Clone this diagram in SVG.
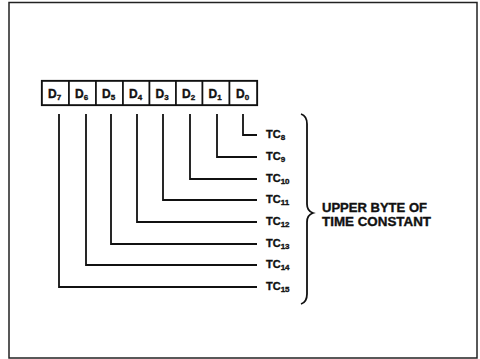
<svg xmlns="http://www.w3.org/2000/svg" width="480" height="359" viewBox="0 0 480 359">
<style>
.ln{fill:none;stroke:#111;stroke-width:1.8;stroke-linejoin:miter}
.cell{fill:#fff;stroke:#111;stroke-width:1.6}
.t{font-family:"Liberation Sans",Arial,sans-serif;font-weight:bold;fill:#111;stroke:#111;stroke-width:0.35}
.d{font-size:12px}
.tc{font-size:11px}
.sub{font-size:8px}
.big{font-size:12px}
</style>
<rect width="480" height="359" fill="#fff"/>
<rect x="9" y="2.5" width="468" height="355.5" fill="none" stroke="#222" stroke-width="1.5"/>
<g id="register">
<rect x="42" y="81" width="215" height="24" fill="#fff" stroke="#111" stroke-width="2.2"/>
<g id="cell-d7"><rect class="cell" x="42" y="81" width="27" height="24"/><text class="t d" x="48" y="98">D<tspan class="sub" dy="2">7</tspan></text></g>
<g id="cell-d6"><rect class="cell" x="69" y="81" width="27" height="24"/><text class="t d" x="75" y="98">D<tspan class="sub" dy="2">6</tspan></text></g>
<g id="cell-d5"><rect class="cell" x="96" y="81" width="27" height="24"/><text class="t d" x="102" y="98">D<tspan class="sub" dy="2">5</tspan></text></g>
<g id="cell-d4"><rect class="cell" x="123" y="81" width="26.5" height="24"/><text class="t d" x="129" y="98">D<tspan class="sub" dy="2">4</tspan></text></g>
<g id="cell-d3"><rect class="cell" x="149.5" y="81" width="26.5" height="24"/><text class="t d" x="155.5" y="98">D<tspan class="sub" dy="2">3</tspan></text></g>
<g id="cell-d2"><rect class="cell" x="176" y="81" width="26.5" height="24"/><text class="t d" x="182" y="98">D<tspan class="sub" dy="2">2</tspan></text></g>
<g id="cell-d1"><rect class="cell" x="202.5" y="81" width="27" height="24"/><text class="t d" x="208.5" y="98">D<tspan class="sub" dy="2">1</tspan></text></g>
<g id="cell-d0"><rect class="cell" x="229.5" y="81" width="27.5" height="24"/><text class="t d" x="236" y="98">D<tspan class="sub" dy="2">0</tspan></text></g>
</g>
<g id="connectors">
<polyline class="ln" points="243,114 243,135 257,135"/>
<polyline class="ln" points="217,114 217,157 257,157"/>
<polyline class="ln" points="190,114 190,179 257,179"/>
<polyline class="ln" points="163,114 163,200 257,200"/>
<polyline class="ln" points="137,114 137,222 257,222"/>
<polyline class="ln" points="111,114 111,244 257,244"/>
<polyline class="ln" points="86,114 86,265 257,265"/>
<polyline class="ln" points="59,114 59,287 257,287"/>
</g>
<g id="labels">
<text class="t tc" x="266" y="138">TC<tspan class="sub" dy="2">8</tspan></text>
<text class="t tc" x="266" y="160">TC<tspan class="sub" dy="2">9</tspan></text>
<text class="t tc" x="266" y="182">TC<tspan class="sub" dy="2">10</tspan></text>
<text class="t tc" x="266" y="203">TC<tspan class="sub" dy="2">11</tspan></text>
<text class="t tc" x="266" y="225">TC<tspan class="sub" dy="2">12</tspan></text>
<text class="t tc" x="266" y="247">TC<tspan class="sub" dy="2">13</tspan></text>
<text class="t tc" x="266" y="268">TC<tspan class="sub" dy="2">14</tspan></text>
<text class="t tc" x="266" y="290">TC<tspan class="sub" dy="2">15</tspan></text>
</g>
<g id="brace">
<path class="ln" stroke-width="2" d="M301,114 Q307,116 307,124 L307,204 Q307,211 313,213 Q307,215 307,222 L307,294 Q307,302 301,304"/>
</g>
<g id="caption">
<text class="t big" x="322" y="212" textLength="105" lengthAdjust="spacingAndGlyphs">UPPER BYTE OF</text>
<text class="t big" x="322" y="226" textLength="109" lengthAdjust="spacingAndGlyphs">TIME CONSTANT</text>
</g>
</svg>
